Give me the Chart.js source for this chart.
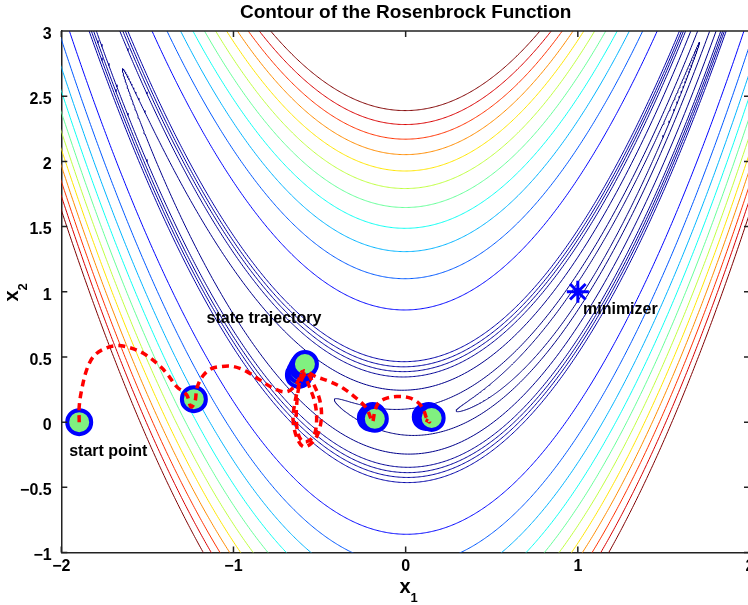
<!DOCTYPE html>
<html lang="en">
<head>
    <meta charset="UTF-8">
    <title>Contour of the Rosenbrock Function</title>
    <script src="https://cdn.jsdelivr.net/npm/chart.js"></script>
    <style>
        html, body { margin: 0; padding: 0; overflow: hidden; background: #fff; }
        canvas { display: block; }
    </style>
</head>
<body>
    <canvas id="myChart" width="752" height="605"></canvas>
    <script>
        // contour levels of f(x1,x2) = 100(x2 - x1^2)^2 + (1 - x1)^2
        const levels = [0.5, 2, 7, 13, 16, 19, 22.5, 75, 122, 172, 222, 272, 322, 372, 422, 472, 522, 572];

        // red dashed trajectory
        const pathX1 = [-1.896, -1.896, -1.882, -1.853, -1.814, -1.756, -1.678, -1.601, -1.524, -1.446, -1.388, -1.330, -1.272,
            -1.247, -1.224, -1.212, -1.178, -1.131, -1.067, -0.998, -0.922, -0.847, -0.771, -0.696, -0.638, -0.603,
            -0.623, -0.644, -0.654, -0.634, -0.595, -0.547, -0.508, -0.489, -0.499, -0.537, -0.576,
            -0.616, -0.633, -0.633, -0.615, -0.580, -0.534, -0.517, -0.528, -0.563, -0.592,
            -0.518, -0.440, -0.363, -0.286, -0.228, -0.203, -0.192, -0.180, -0.162, -0.122, -0.052, 0.023, 0.075, 0.104,
            0.121, 0.139, 0.116];
        const pathX2 = [0.000, 0.119, 0.247, 0.400, 0.502, 0.559, 0.587, 0.571, 0.528, 0.452, 0.375, 0.272, 0.209,
            0.117, 0.155, 0.262, 0.354, 0.408, 0.427, 0.426, 0.387, 0.324, 0.262, 0.232, 0.285, 0.385,
            0.272, 0.145, 0.017, -0.111, -0.188, -0.162, -0.085, 0.042, 0.170, 0.298, 0.375,
            0.285, 0.132, -0.022, -0.121, -0.152, -0.106, 0.017, 0.155, 0.285, 0.393,
            0.347, 0.311, 0.260, 0.183, 0.107, 0.032, 0.002, 0.078, 0.140, 0.178, 0.196, 0.186, 0.147, 0.094,
            0.032, 0.002, 0.017];

        // visited states (circles)
        const stateX1 = [-1.896, -1.230, -0.620, -0.609, -0.597, -0.585, -0.202, -0.191, -0.179, 0.117, 0.134, 0.151];
        const stateX2 = [0.000, 0.176, 0.362, 0.393, 0.423, 0.446, 0.032, 0.047, 0.025, 0.040, 0.047, 0.032];

        const minX1 = [1];
        const minX2 = [1];

        const xTicks = [-2, -1, 0, 1, 2];
        const xTickLabels = ['\u22122', '\u22121', '0', '1', '2'];
        const yTicks = [-1, -0.5, 0, 0.5, 1, 1.5, 2, 2.5, 3];
        const yTickLabels = ['\u22121', '\u22120.5', '0', '0.5', '1', '1.5', '2', '2.5', '3'];

        const noteText = ['start point', 'state trajectory', 'minimizer'];
        const noteX1 = [-1.954, -1.156, 1.030];
        const noteX2 = [-0.226, 0.797, 0.866];

        const FONT = "'Liberation Sans', Arial, Helvetica, sans-serif";
        Chart.defaults.font.family = FONT;

        // jet colormap
        function jet(t) {
            const c = v => Math.round(255 * Math.max(0, Math.min(1, v)));
            return 'rgb(' + c(1.5 - Math.abs(4 * t - 3)) + ',' + c(1.5 - Math.abs(4 * t - 2)) + ',' + c(1.5 - Math.abs(4 * t - 1)) + ')';
        }

        // level curve f = c : x1 = 1 - sqrt(c) cos(th), x2 = x1^2 + sqrt(c)/10 sin(th)
        function levelCurve(c) {
            const r = Math.sqrt(c);
            const pt = th => { const x = 1 - r * Math.cos(th); return { x: x, y: x * x + r / 10 * Math.sin(th) }; };
            const lo = -2.05, hi = 2.05, n = 600;
            const thR = Math.acos(Math.max(-1, (1 - hi) / r));
            const pts = [];
            if (1 - r >= lo) {
                for (let i = 0; i <= n; i++) pts.push(pt(-thR + 2 * thR * i / n));
            } else {
                const thL = Math.acos((1 - lo) / r);
                for (let i = 0; i <= n; i++) pts.push(pt(thL + (thR - thL) * i / n));
                pts.push({ x: 0, y: null });
                for (let i = 0; i <= n; i++) pts.push(pt(-thL - (thR - thL) * i / n));
            }
            return pts;
        }

        const cMin = levels[0], cMax = levels[levels.length - 1];

        const decor = {
            id: 'decor',
            afterDatasetsDraw(chart) {
                const ctx = chart.ctx;
                const xs = chart.scales.x, ys = chart.scales.y;
                ctx.save();
                ctx.fillStyle = '#000';
                ctx.font = 'bold 16px ' + FONT;
                ctx.textAlign = 'left';
                ctx.textBaseline = 'middle';
                noteText.forEach((t, i) => {
                    ctx.fillText(t, xs.getPixelForValue(noteX1[i]), ys.getPixelForValue(noteX2[i]));
                });
                ctx.restore();
            },
            afterDraw(chart) {
                const ctx = chart.ctx;
                const a = chart.chartArea;
                const xs = chart.scales.x, ys = chart.scales.y;
                ctx.save();
                ctx.strokeStyle = '#222';
                ctx.lineWidth = 1.5;
                ctx.beginPath();
                ctx.moveTo(a.left, a.top); ctx.lineTo(a.right, a.top); ctx.lineTo(a.right, a.bottom);
                // inward ticks
                xTicks.forEach(v => {
                    const px = xs.getPixelForValue(v);
                    ctx.moveTo(px, a.bottom); ctx.lineTo(px, a.bottom - 6);
                    ctx.moveTo(px, a.top); ctx.lineTo(px, a.top + 6);
                });
                yTicks.forEach(v => {
                    const py = ys.getPixelForValue(v);
                    ctx.moveTo(a.left, py); ctx.lineTo(a.left + 6, py);
                    ctx.moveTo(a.right, py); ctx.lineTo(a.right - 6, py);
                });
                ctx.stroke();

                ctx.fillStyle = '#000';
                ctx.textAlign = 'center';
                ctx.textBaseline = 'alphabetic';
                ctx.font = 'bold 16px ' + FONT;
                xTicks.forEach((v, i) => ctx.fillText(xTickLabels[i], xs.getPixelForValue(v), a.bottom + 18.5));

                ctx.textBaseline = 'middle';
                ctx.font = 'bold 19px ' + FONT;
                ctx.fillText('Contour of the Rosenbrock Function', (a.left + a.right) / 2, 13);

                // x1 label
                ctx.textBaseline = 'alphabetic';
                ctx.font = 'bold 20px ' + FONT;
                ctx.fillText('x', 405, 593);
                ctx.font = 'bold 13px ' + FONT;
                ctx.fillText('1', 414, 602);

                // x2 label
                ctx.translate(18, 296);
                ctx.rotate(-Math.PI / 2);
                ctx.font = 'bold 20px ' + FONT;
                ctx.fillText('x', 0, 0);
                ctx.font = 'bold 13px ' + FONT;
                ctx.fillText('2', 9, 9);
                ctx.restore();
            }
        };

        function build() {
            const contourSets = levels.map(c => ({
                type: 'line',
                data: levelCurve(c),
                borderColor: jet((c - cMin) / (cMax - cMin)),
                borderWidth: 1,
                pointRadius: 0,
                fill: false,
                tension: 0,
                order: 5
            }));
            return new Chart(document.getElementById('myChart'), {
                type: 'line',
                data: {
                    datasets: contourSets.concat([
                        {
                            type: 'line',
                            data: pathX1.map((x, i) => ({ x: x, y: pathX2[i] })),
                            borderColor: '#ff0000',
                            borderWidth: 3.5,
                            borderDash: [7, 5],
                            pointRadius: 0,
                            fill: false,
                            tension: 0.35,
                            order: 1
                        },
                        {
                            type: 'scatter',
                            data: stateX1.map((x, i) => ({ x: x, y: stateX2[i] })),
                            pointRadius: 12,
                            borderWidth: 4,
                            borderColor: '#0000ff',
                            backgroundColor: '#80f080',
                            order: 2
                        },
                        {
                            type: 'scatter',
                            data: minX1.map((x, i) => ({ x: x, y: minX2[i] })),
                            pointStyle: 'star',
                            pointRadius: 11,
                            borderWidth: 3,
                            borderColor: '#0000ff',
                            order: 0
                        }
                    ])
                },
                options: {
                    responsive: false,
                    animation: false,
                    events: [],
                    layout: { padding: { top: 31, right: 1.4, left: 0, bottom: 0 } },
                    plugins: { legend: { display: false }, tooltip: { enabled: false }, title: { display: false } },
                    scales: {
                        x: {
                            type: 'linear',
                            min: -2,
                            max: 2,
                            grid: { drawOnChartArea: false, drawTicks: false },
                            border: { color: '#222', width: 1.5 },
                            ticks: { stepSize: 1, display: false },
                            afterFit: s => { s.height = 52.5; s.paddingLeft = 0; s.paddingRight = 0; }
                        },
                        y: {
                            type: 'linear',
                            min: -1,
                            max: 3,
                            grid: { drawOnChartArea: false, drawTicks: false },
                            border: { color: '#222', width: 1.5 },
                            ticks: {
                                stepSize: 0.5,
                                autoSkip: false,
                                padding: 9.6,
                                labelOffset: 3.5,
                                color: '#000',
                                font: { size: 16, weight: 'bold' },
                                callback: v => yTickLabels[yTicks.indexOf(v)]
                            },
                            afterFit: s => { s.width = 61.3; s.paddingTop = 0; s.paddingBottom = 0; }
                        }
                    }
                },
                plugins: [decor]
            });
        }

        // the plot box runs to x = 2 just past the right edge of the window
        let chart = build();
        for (let k = 0; k < 2; k++) {
            const d = 750.6 - chart.chartArea.right;
            if (Math.abs(d) < 0.2) break;
            const w = chart.width + d;
            chart.destroy();
            const cv = document.getElementById('myChart');
            cv.width = Math.round(w * 10) / 10;
            cv.style.width = cv.width + 'px';
            chart = build();
        }
    </script>
</body>
</html>
